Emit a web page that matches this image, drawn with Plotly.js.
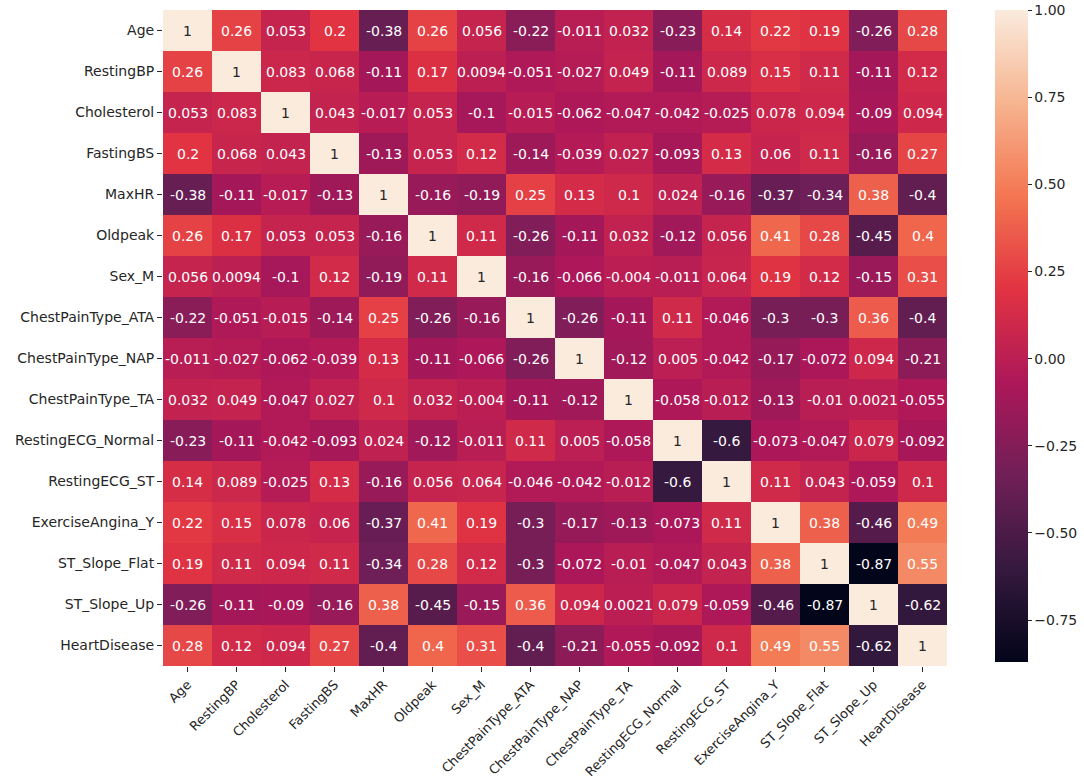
<!DOCTYPE html>
<html>
<head>
<meta charset="utf-8">
<script src="https://cdn.plot.ly/plotly-3.0.1.min.js"></script>
<style>html,body{margin:0;padding:0;background:#fff;}#chart{width:1084px;height:782px;}</style>
</head>
<body>
<div id="chart"></div>
<script>
const labels = ["Age","RestingBP","Cholesterol","FastingBS","MaxHR","Oldpeak","Sex_M","ChestPainType_ATA","ChestPainType_NAP","ChestPainType_TA","RestingECG_Normal","RestingECG_ST","ExerciseAngina_Y","ST_Slope_Flat","ST_Slope_Up","HeartDisease"];

const rowAge        = [1, 0.26, 0.053, 0.2, -0.38, 0.26, 0.056, -0.22, -0.011, 0.032, -0.23, 0.14, 0.22, 0.19, -0.26, 0.28];
const rowRestingBP  = [0.26, 1, 0.083, 0.068, -0.11, 0.17, 0.0094, -0.051, -0.027, 0.049, -0.11, 0.089, 0.15, 0.11, -0.11, 0.12];
const rowCholesterol= [0.053, 0.083, 1, 0.043, -0.017, 0.053, -0.1, -0.015, -0.062, -0.047, -0.042, -0.025, 0.078, 0.094, -0.09, 0.094];
const rowFastingBS  = [0.2, 0.068, 0.043, 1, -0.13, 0.053, 0.12, -0.14, -0.039, 0.027, -0.093, 0.13, 0.06, 0.11, -0.16, 0.27];
const rowMaxHR      = [-0.38, -0.11, -0.017, -0.13, 1, -0.16, -0.19, 0.25, 0.13, 0.1, 0.024, -0.16, -0.37, -0.34, 0.38, -0.4];
const rowOldpeak    = [0.26, 0.17, 0.053, 0.053, -0.16, 1, 0.11, -0.26, -0.11, 0.032, -0.12, 0.056, 0.41, 0.28, -0.45, 0.4];
const rowSexM       = [0.056, 0.0094, -0.1, 0.12, -0.19, 0.11, 1, -0.16, -0.066, -0.004, -0.011, 0.064, 0.19, 0.12, -0.15, 0.31];
const rowCPT_ATA    = [-0.22, -0.051, -0.015, -0.14, 0.25, -0.26, -0.16, 1, -0.26, -0.11, 0.11, -0.046, -0.3, -0.3, 0.36, -0.4];
const rowCPT_NAP    = [-0.011, -0.027, -0.062, -0.039, 0.13, -0.11, -0.066, -0.26, 1, -0.12, 0.005, -0.042, -0.17, -0.072, 0.094, -0.21];
const rowCPT_TA     = [0.032, 0.049, -0.047, 0.027, 0.1, 0.032, -0.004, -0.11, -0.12, 1, -0.058, -0.012, -0.13, -0.01, 0.0021, -0.055];
const rowECG_Normal = [-0.23, -0.11, -0.042, -0.093, 0.024, -0.12, -0.011, 0.11, 0.005, -0.058, 1, -0.6, -0.073, -0.047, 0.079, -0.092];
const rowECG_ST     = [0.14, 0.089, -0.025, 0.13, -0.16, 0.056, 0.064, -0.046, -0.042, -0.012, -0.6, 1, 0.11, 0.043, -0.059, 0.1];
const rowExAngina   = [0.22, 0.15, 0.078, 0.06, -0.37, 0.41, 0.19, -0.3, -0.17, -0.13, -0.073, 0.11, 1, 0.38, -0.46, 0.49];
const rowSlopeFlat  = [0.19, 0.11, 0.094, 0.11, -0.34, 0.28, 0.12, -0.3, -0.072, -0.01, -0.047, 0.043, 0.38, 1, -0.87, 0.55];
const rowSlopeUp    = [-0.26, -0.11, -0.09, -0.16, 0.38, -0.45, -0.15, 0.36, 0.094, 0.0021, 0.079, -0.059, -0.46, -0.87, 1, -0.62];
const rowHeart      = [0.28, 0.12, 0.094, 0.27, -0.4, 0.4, 0.31, -0.4, -0.21, -0.055, -0.092, 0.1, 0.49, 0.55, -0.62, 1];

const colorbarTicks = [-0.75, -0.5, -0.25, 0, 0.25, 0.5, 0.75, 1];

const z = [rowAge,rowRestingBP,rowCholesterol,rowFastingBS,rowMaxHR,rowOldpeak,rowSexM,rowCPT_ATA,rowCPT_NAP,rowCPT_TA,rowECG_Normal,rowECG_ST,rowExAngina,rowSlopeFlat,rowSlopeUp,rowHeart];

const rocket = [
  [0.0, '#03051a'],
  [0.142857, '#35193e'],
  [0.285714, '#701f57'],
  [0.428571, '#ad1759'],
  [0.571429, '#e13342'],
  [0.714286, '#f37651'],
  [0.857143, '#f6b48f'],
  [1.0, '#faebdd']
];

const zmin = -0.87, zmax = 1;
const FONT = 'DejaVu Sans, sans-serif';
const FS = 14;

const annotations = [];
z.forEach((row, i) => {
  row.forEach((v, j) => {
    annotations.push({
      x: labels[j], y: labels[i], xref: 'x', yref: 'y',
      text: String(v), showarrow: false,
      font: {family: FONT, size: FS, color: v > 0.7 ? '#262626' : '#ffffff'}
    });
  });
});

const trace = {
  type: 'heatmap',
  z: z, x: labels, y: labels,
  zmin: zmin, zmax: zmax,
  colorscale: rocket,
  hoverinfo: 'skip',
  xgap: 0, ygap: 0,
  colorbar: {
    x: (995 - 163) / 784, xanchor: 'left', xref: 'paper',
    y: 1.0, yanchor: 'top',
    len: 652/656, lenmode: 'fraction',
    thickness: 33, thicknessmode: 'pixels',
    outlinewidth: 0,
    tickvals: colorbarTicks,
    tickformat: '.2f',
    ticks: 'outside', ticklen: 4, tickwidth: 1, tickcolor: '#262626',
    tickfont: {family: FONT, size: FS, color: '#262626'},
    xpad: 0, ypad: 0
  }
};

const layout = {
  width: 1084, height: 782,
  margin: {l: 163, r: 137, t: 10, b: 116, autoexpand: false},
  paper_bgcolor: '#ffffff', plot_bgcolor: '#ffffff',
  font: {family: FONT, size: FS, color: '#262626'},
  xaxis: {
    type: 'category', tickangle: -45, automargin: false,
    ticks: 'outside', ticklen: 5, tickwidth: 1, tickcolor: '#262626',
    showgrid: false, zeroline: false, showline: false,
    tickfont: {family: FONT, size: 13, color: '#262626'}
  },
  yaxis: {
    type: 'category', autorange: 'reversed', automargin: false,
    ticks: 'outside', ticklen: 5, tickwidth: 1, tickcolor: '#262626',
    showgrid: false, zeroline: false, showline: false,
    tickfont: {family: FONT, size: FS, color: '#262626'}
  },
  annotations: annotations
};

Plotly.newPlot('chart', [trace], layout, {displayModeBar: false, staticPlot: true});
</script>
</body>
</html>
